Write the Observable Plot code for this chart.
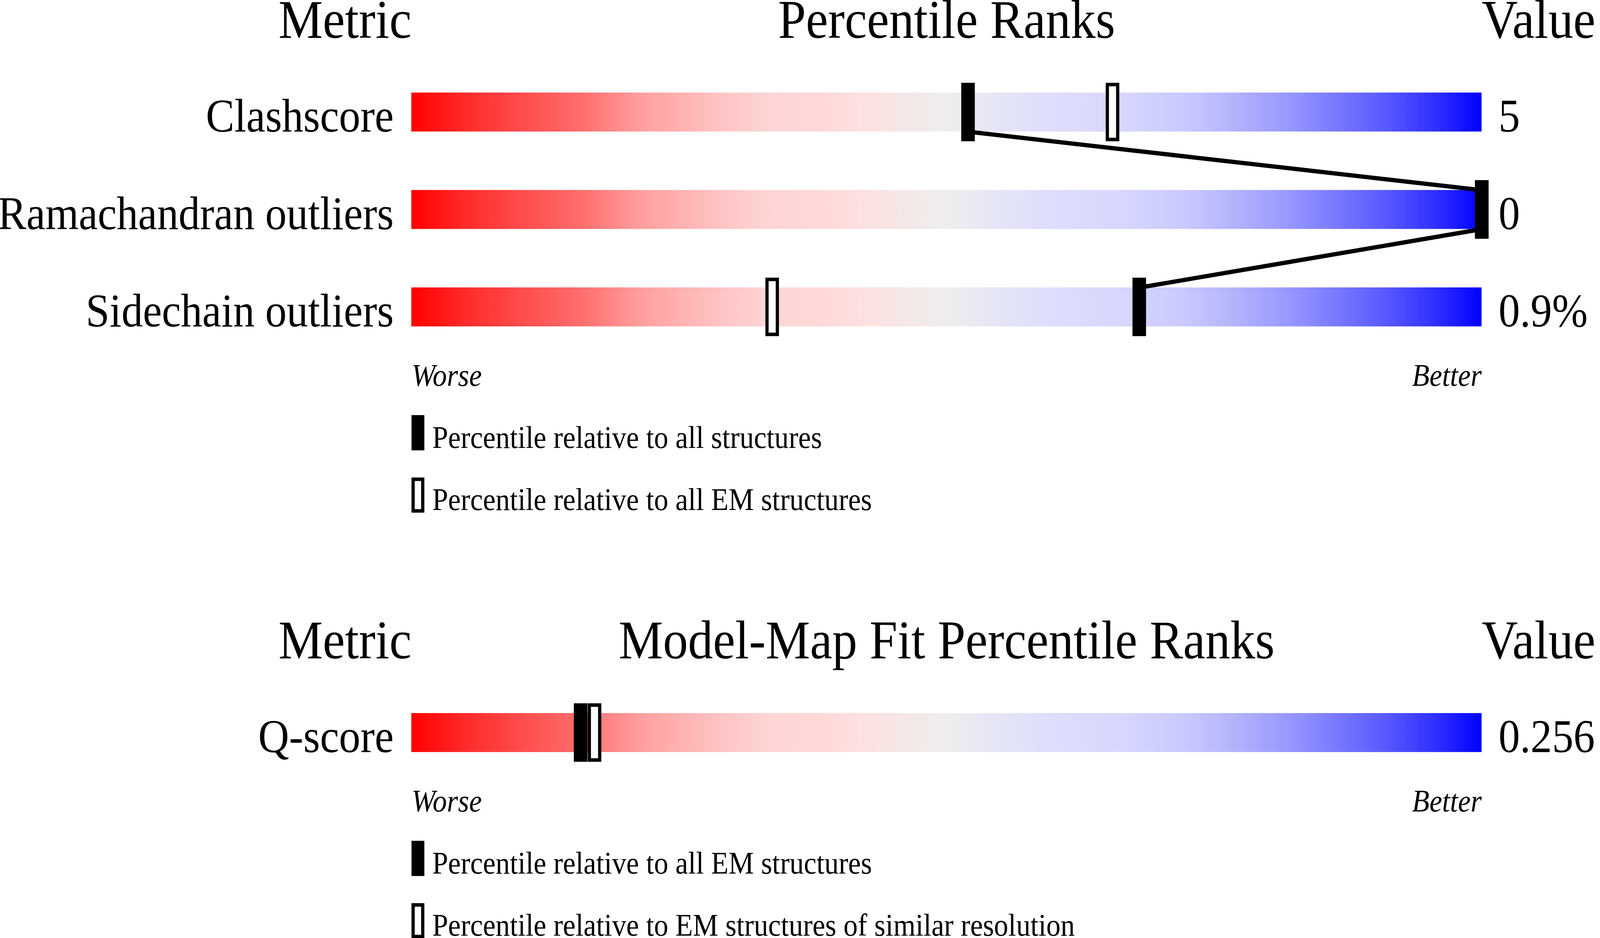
<!DOCTYPE html>
<html>
<head>
<meta charset="utf-8">
<script src="https://cdn.jsdelivr.net/npm/d3@7"></script>
<script src="https://cdn.jsdelivr.net/npm/@observablehq/plot@0.6"></script>
<style>
  html, body { margin: 0; padding: 0; background: #fff; overflow: hidden; width: 100vw; height: 100vh; }
  #chart { width: 100vw; height: 100vh; overflow: hidden; }
  svg { display: block; }
</style>
</head>
<body>
<div id="chart"></div>
<script>
// ---------- data ----------
const geomTitles = ["Metric", "Percentile Ranks", "Value"];
const geomMetrics = ["Clashscore", "Ramachandran outliers", "Sidechain outliers"];
const geomValues = ["5", "0", "0.9%"];
const geomPctAll = [52, 100, 68];       // filled marker: relative to all structures
const geomPctEM = [65.5, 100, 33.7];    // open marker: relative to all EM structures
const geomLegend = ["Percentile relative to all structures", "Percentile relative to all EM structures"];

const fitTitles = ["Metric", "Model-Map Fit Percentile Ranks", "Value"];
const fitMetrics = ["Q-score"];
const fitValues = ["0.256"];
const fitPctAll = [15.8];               // filled marker: relative to all EM structures
const fitPctRes = [17.1];               // open marker: EM structures of similar resolution
const fitLegend = ["Percentile relative to all EM structures", "Percentile relative to EM structures of similar resolution"];

const scaleEnds = ["Worse", "Better"];

// gradient stops (offset, colour)
const gradOffsets = [0, 0.05, 0.105, 0.16, 0.216, 0.29, 0.33, 0.38, 0.42, 0.47, 0.5, 0.548, 0.592, 0.66, 0.723, 0.771, 0.819, 0.867, 0.915, 0.962, 1];
const gradColors = ["#ff0000", "#ff2a2a", "#ff4d4d", "#ff6e6e", "#ffa0a0", "#ffc4c4", "#ffd4d4", "#ffd8d8", "#fde0e0", "#f3e8e8", "#eeeeee",
                    "#e5e5f6", "#dedefc", "#d7d7fe", "#c9c9ff", "#b2b2fc", "#9898ff", "#7777ff", "#5555ff", "#2a2aff", "#0000ff"];

// ---------- layout / style ----------
const FONT = "Liberation Serif, Times New Roman, serif";
const W = 4485, TOTAL_H = 2402;
const UNIT = 249.5;      // px per row step
const H = 0.2;           // half bar height in row units
const E = 0.1;           // marker extension beyond bar
const MARK_W = 38;

function section({titles, metrics, values, pctA, pctB, legend, height, marginTop, gradId}) {
  const rows = metrics.map((m, i) => ({m, i, v: values[i], a: pctA[i], b: pctB[i], lo: 0, hi: 100}));
  const last = rows.length - 1;
  const links = rows.slice(1).map((r, k) => ({x1: rows[k].a, y1: rows[k].i + H, x2: r.a, y2: r.i - H}));
  const base = last + H;
  const titleY = -H - 0.562;
  const endsY = base + 0.61;
  const leg = [
    {t: legend[0], y1: base + 0.911, y2: base + 1.272, ty: base + 1.244, open: false},
    {t: legend[1], y1: base + 1.551, y2: base + 1.912, ty: base + 1.884, open: true}
  ];
  const marginBottom = height - marginTop - (last + 2 * H) * UNIT;
  const txt = {fontFamily: FONT, fill: "black", lineAnchor: "bottom"};

  const svg = Plot.plot({
    width: W, height, marginTop, marginBottom, marginLeft: 1153, marginRight: 332,
    style: {fontFamily: FONT, background: "white"},
    x: {domain: [0, 100], axis: null},
    y: {domain: [-H, last + H], reverse: true, axis: null},
    marks: [
      Plot.rect(rows, {x1: "lo", x2: "hi", y1: d => d.i - H, y2: d => d.i + H, fill: `url(#${gradId})`}),
      Plot.link(links, {x1: "x1", y1: "y1", x2: "x2", y2: "y2", stroke: "black", strokeWidth: 11}),
      // open markers
      Plot.ruleX(rows, {x: "b", y1: d => d.i - H - E, y2: d => d.i + H + E, stroke: "black", strokeWidth: MARK_W}),
      Plot.ruleX(rows, {x: "b", y1: d => d.i - H - E, y2: d => d.i + H + E, stroke: "white", strokeWidth: MARK_W - 18, insetTop: 9, insetBottom: 9}),
      // filled markers
      Plot.ruleX(rows, {x: "a", y1: d => d.i - H - E, y2: d => d.i + H + E, stroke: "black", strokeWidth: MARK_W}),
      // row labels and values
      Plot.text(rows, {...txt, x: "lo", y: d => d.i + H, text: "m", textAnchor: "end", dx: -50, fontSize: 120}),
      Plot.text(rows, {...txt, x: "hi", y: d => d.i + H, text: "v", textAnchor: "start", dx: 47, fontSize: 120}),
      // header
      Plot.text([titles[0]], {...txt, x: () => 0, y: () => titleY, text: d => d, textAnchor: "end", fontSize: 140}),
      Plot.text([titles[1]], {...txt, x: () => 50, y: () => titleY, text: d => d, textAnchor: "middle", fontSize: 140}),
      Plot.text([titles[2]], {...txt, x: () => 100, y: () => titleY, text: d => d, textAnchor: "start", fontSize: 140}),
      // worse / better
      Plot.text([scaleEnds[0]], {...txt, x: () => 0, y: () => endsY, text: d => d, textAnchor: "start", fontSize: 80, fontStyle: "italic"}),
      Plot.text([scaleEnds[1]], {...txt, x: () => 100, y: () => endsY, text: d => d, textAnchor: "end", fontSize: 80, fontStyle: "italic"}),
      // legend
      Plot.ruleX(leg, {x: () => 0, y1: "y1", y2: "y2", dx: 18, stroke: "black", strokeWidth: 36}),
      Plot.ruleX(leg.filter(d => d.open), {x: () => 0, y1: "y1", y2: "y2", dx: 18, stroke: "white", strokeWidth: 18, insetTop: 9, insetBottom: 9}),
      Plot.text(leg, {...txt, x: () => 0, y: "ty", text: "t", textAnchor: "start", dx: 58, fontSize: 80})
    ]
  });

  const defs = d3.select(svg).insert("defs", ":first-child");
  const g = defs.append("linearGradient").attr("id", gradId).attr("x1", "0").attr("x2", "1").attr("y1", "0").attr("y2", "0");
  gradOffsets.forEach((o, k) => g.append("stop").attr("offset", o).attr("stop-color", gradColors[k]));
  // fill the actual viewport with the 4485×2402 design
  svg.setAttribute("viewBox", `0 0 ${W} ${height}`);
  svg.setAttribute("preserveAspectRatio", "none");
  svg.style.width = "100vw";
  svg.style.maxWidth = "none";
  svg.style.height = `${(100 * height / TOTAL_H).toFixed(4)}vh`;
  return svg;
}

const root = document.getElementById("chart");
root.appendChild(section({titles: geomTitles, metrics: geomMetrics, values: geomValues, pctA: geomPctAll, pctB: geomPctEM,
  legend: geomLegend, height: 1350, marginTop: 237, gradId: "gradGeom"}));
root.appendChild(section({titles: fitTitles, metrics: fitMetrics, values: fitValues, pctA: fitPctAll, pctB: fitPctRes,
  legend: fitLegend, height: 1052, marginTop: 476, gradId: "gradFit"}));
</script>
</body>
</html>
